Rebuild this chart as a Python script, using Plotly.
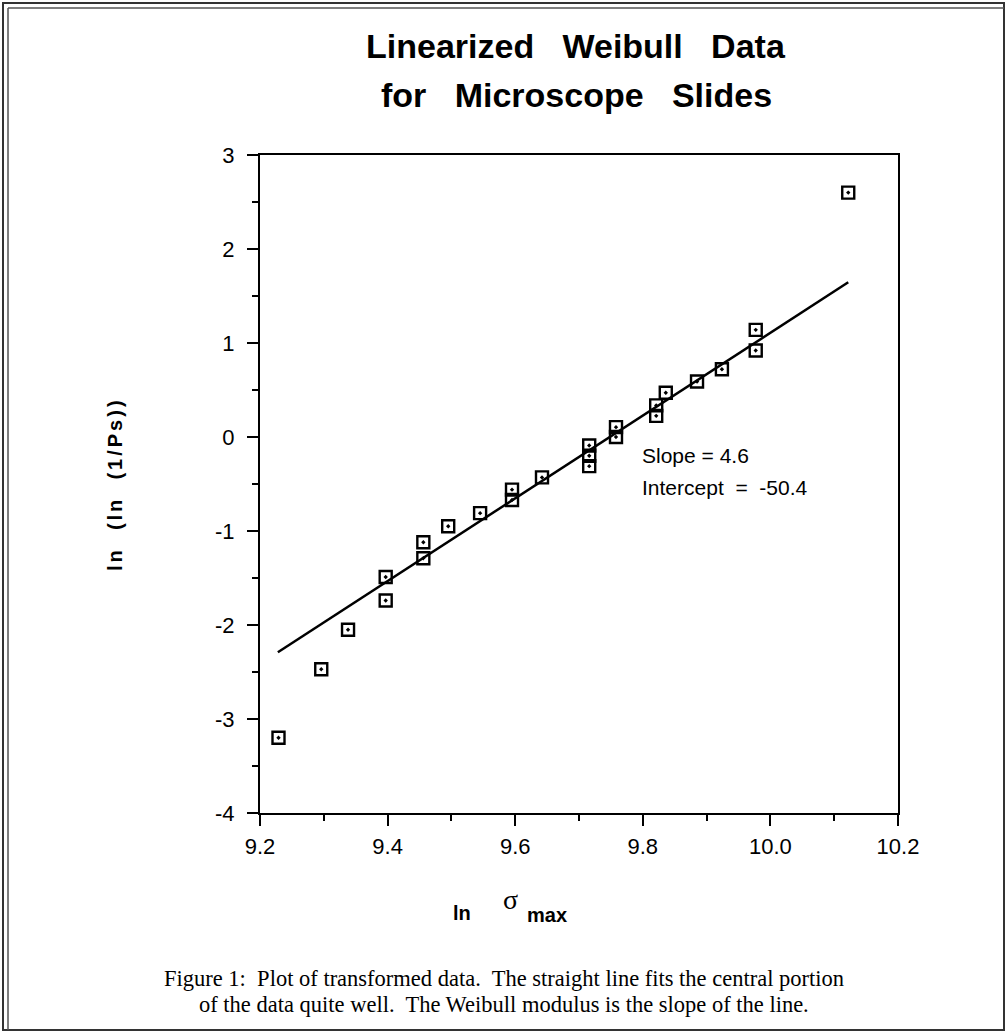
import plotly.graph_objects as go

# data
ln_sigma = [9.229, 9.296, 9.338, 9.397, 9.397, 9.456, 9.456, 9.495, 9.545,
            9.595, 9.595, 9.642, 9.716, 9.716, 9.716, 9.758, 9.758, 9.821,
            9.821, 9.836, 9.885, 9.924, 9.977, 9.977, 10.122]
ln_ln_ps = [-3.20, -2.47, -2.05, -1.74, -1.49, -1.29, -1.12, -0.95, -0.81,
            -0.67, -0.56, -0.43, -0.31, -0.20, -0.09, 0.00, 0.105, 0.225,
            0.336, 0.47, 0.59, 0.72, 0.92, 1.14, 2.60]
fit_x = [9.228, 10.122]
fit_y = [-2.29, 1.646]

x_ticks = [9.2, 9.4, 9.6, 9.8, 10.0, 10.2]
x_tick_labels = ["9.2", "9.4", "9.6", "9.8", "10.0", "10.2"]
y_ticks = [-4, -3, -2, -1, 0, 1, 2, 3]
y_tick_labels = ["-4", "-3", "-2", "-1", "0", "1", "2", "3"]

W, H = 1007, 1034
L, R, T, B = 260, 898, 155, 813


def px(x):
    return (x - L) / (R - L)


def py(y):
    return (B - y) / (B - T)


sans = "Liberation Sans, Arial, sans-serif"
serif = "Liberation Serif, Times New Roman, serif"

fig = go.Figure()
fig.add_trace(go.Scatter(x=fit_x, y=fit_y, mode="lines",
                         line=dict(color="black", width=2.5), showlegend=False))
fig.add_trace(go.Scatter(x=ln_sigma, y=ln_ln_ps, mode="markers",
                         marker=dict(symbol="square-open-dot", size=12, color="black",
                                     line=dict(color="black", width=2.4)),
                         showlegend=False))

tickfont = dict(family=sans, size=22, color="black")
fig.update_xaxes(range=[9.2, 10.2], tickvals=x_ticks, ticktext=x_tick_labels,
                 minor=dict(dtick=0.1, ticks="outside", ticklen=6, tickwidth=2, tickcolor="black"),
                 ticks="outside", ticklen=11, tickwidth=2, tickcolor="black",
                 showline=True, linecolor="black", linewidth=2, mirror=True,
                 showgrid=False, zeroline=False, tickfont=tickfont, ticklabelstandoff=2)
fig.update_yaxes(range=[-4, 3], tickvals=y_ticks, ticktext=y_tick_labels,
                 minor=dict(dtick=0.5, ticks="outside", ticklen=6, tickwidth=2, tickcolor="black"),
                 ticks="outside", ticklen=11, tickwidth=2, tickcolor="black",
                 showline=True, linecolor="black", linewidth=2, mirror=True,
                 showgrid=False, zeroline=False, tickfont=tickfont, ticklabelstandoff=8)

annotations = [
    dict(text="<b>Linearized\u00a0\u00a0\u00a0Weibull\u00a0\u00a0\u00a0Data</b>",
         x=px(576), y=py(46), font=dict(family=sans, size=34, color="black")),
    dict(text="<b>for\u00a0\u00a0\u00a0Microscope\u00a0\u00a0\u00a0Slides</b>",
         x=px(576), y=py(95), font=dict(family=sans, size=34, color="black")),
    dict(text="Slope = 4.6", x=px(640), y=py(455), xanchor="left",
         font=dict(family=sans, size=21, color="black")),
    dict(text="Intercept\u00a0\u00a0=\u00a0\u00a0-50.4", x=px(640), y=py(487), xanchor="left",
         font=dict(family=sans, size=21, color="black")),
    dict(text="<b><span style='letter-spacing:3px'>ln\u00a0\u00a0(ln\u00a0\u00a0(1/Ps))</span></b>",
         x=px(115), y=py(484), textangle=-90,
         font=dict(family=sans, size=20, color="black")),
    dict(text="<b>ln</b>", x=px(462), y=py(913),
         font=dict(family=sans, size=20, color="black")),
    dict(text="σ", x=px(510), y=py(899),
         font=dict(family=serif, size=28, color="black")),
    dict(text="<b>max</b>", x=px(547), y=py(915),
         font=dict(family=sans, size=20, color="black")),
    dict(text="Figure 1:  Plot of transformed data.  The straight line fits the central portion",
         x=px(504), y=py(978), font=dict(family=serif, size=22.5, color="black")),
    dict(text="of the data quite well.  The Weibull modulus is the slope of the line.",
         x=px(504), y=py(1004), font=dict(family=serif, size=22.5, color="black")),
]
for a in annotations:
    a.update(xref="paper", yref="paper", showarrow=False, xanchor=a.get("xanchor", "center"),
             yanchor="middle")
fig.update_layout(annotations=annotations)

shapes = [
    dict(type="rect", x0=px(3), x1=px(1004), y0=py(3), y1=py(1030),
         line=dict(color="#333", width=2)),
    dict(type="line", x0=px(8), x1=px(8), y0=py(8), y1=py(1030),
         line=dict(color="#555", width=1.5)),
    dict(type="line", x0=px(8), x1=px(1004), y0=py(8), y1=py(8),
         line=dict(color="#555", width=1.5)),
]
for s in shapes:
    s.update(xref="paper", yref="paper")
fig.update_layout(shapes=shapes)

fig.update_layout(width=W, height=H, margin=dict(l=L, r=W - R, t=T, b=H - B),
                  paper_bgcolor="white", plot_bgcolor="white")
fig.write_html("out.html", config={"displayModeBar": False},
               post_script="document.body.style.margin='0';document.body.style.overflow='hidden';")
